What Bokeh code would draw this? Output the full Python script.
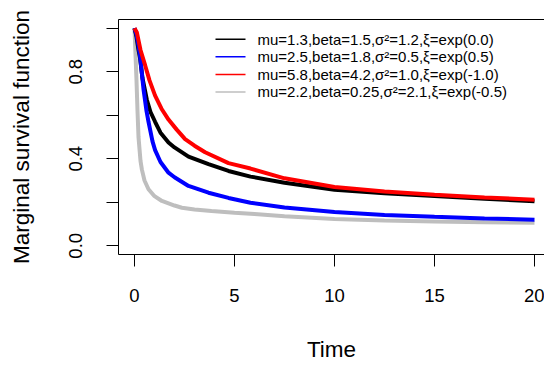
from bokeh.plotting import figure
from bokeh.models import FixedTicker, LinearAxis, Range1d
from bokeh.core.properties import value
from bokeh.embed import file_html
from bokeh.resources import INLINE

# ---- data ----
time_black = [0, 0.1, 0.2, 0.28, 0.4, 0.62, 0.8, 1.03, 1.3, 1.7, 2.0, 2.7, 3.7, 4.7, 5.8, 7.5, 10, 12.5, 15, 17.5, 20]
surv_black = [1.0, 0.96, 0.9, 0.86, 0.77, 0.67, 0.615, 0.57, 0.52, 0.475, 0.452, 0.41, 0.375, 0.344, 0.318, 0.29, 0.258, 0.242, 0.229, 0.216, 0.205]

time_blue = [0, 0.1, 0.2, 0.28, 0.45, 0.6, 0.7, 0.9, 1.03, 1.3, 1.7, 2.0, 2.7, 3.7, 4.7, 5.8, 7.5, 10, 12.5, 15, 17.5, 20]
surv_blue = [1.0, 0.97, 0.92, 0.87, 0.72, 0.62, 0.57, 0.48, 0.44, 0.385, 0.336, 0.315, 0.275, 0.244, 0.22, 0.198, 0.176, 0.155, 0.142, 0.133, 0.126, 0.12]

time_red = [0, 0.12, 0.3, 0.53, 0.75, 1.03, 1.35, 1.7, 2.1, 2.53, 3.0, 3.53, 4.7, 5.8, 7.5, 10, 12.5, 15, 17.5, 20]
surv_red = [1.0, 0.98, 0.9, 0.83, 0.76, 0.69, 0.63, 0.58, 0.535, 0.49, 0.46, 0.43, 0.38, 0.355, 0.31, 0.27, 0.25, 0.235, 0.222, 0.212]

time_gray = [0, 0.05, 0.1, 0.15, 0.2, 0.3, 0.37, 0.5, 0.7, 1.0, 1.37, 2.0, 2.37, 3.0, 3.85, 5.0, 6.0, 7.5, 10, 12.5, 15, 17.5, 20]
surv_gray = [1.0, 0.88, 0.76, 0.62, 0.5, 0.39, 0.35, 0.3, 0.26, 0.228, 0.206, 0.185, 0.175, 0.167, 0.16, 0.152, 0.146, 0.136, 0.123, 0.116, 0.112, 0.108, 0.106]

legend_labels = [
    "mu=1.3,beta=1.5,\u03c3\u00b2=1.2,\u03be=exp(0.0)",
    "mu=2.5,beta=1.8,\u03c3\u00b2=0.5,\u03be=exp(0.5)",
    "mu=5.8,beta=4.2,\u03c3\u00b2=1.0,\u03be=exp(-1.0)",
    "mu=2.2,beta=0.25,\u03c3\u00b2=2.1,\u03be=exp(-0.5)",
]
legend_colors = ["black", "#0000FF", "#FF0000", "#BEBEBE"]

x_ticks = [0, 5, 10, 15, 20]
y_ticks = [0.0, 0.2, 0.4, 0.6, 0.8, 1.0]
y_tick_labels = {0.0: "0.0", 0.2: "", 0.4: "0.4", 0.6: "", 0.8: "0.8", 1.0: ""}

FONT = "Liberation Sans"

p = figure(width=544, height=367, output_backend="svg", toolbar_location=None,
           x_range=Range1d(-0.8, 20.5), y_range=Range1d(-0.04, 1.04),
           min_border_left=118, min_border_right=0, min_border_top=19, min_border_bottom=113)
p.outline_line_color = None
p.xgrid.visible = False
p.ygrid.visible = False
p.background_fill_color = "white"
p.border_fill_color = "white"

# curves
p.line(time_gray, surv_gray, color=legend_colors[3], line_width=4)
p.line(time_black, surv_black, color=legend_colors[0], line_width=4)
p.line(time_blue, surv_blue, color=legend_colors[1], line_width=4)
p.line(time_red, surv_red, color=legend_colors[2], line_width=4)

# legend (no box), placed in data space
leg_x0, leg_x1, leg_tx = 4.05, 5.55, 6.15
leg_y_top, leg_dy = 0.949, 0.0806
leg_ys = [leg_y_top - i * leg_dy for i in range(len(legend_labels))]
p.segment(x0=[leg_x0] * 4, x1=[leg_x1] * 4, y0=leg_ys, y1=leg_ys,
          color=legend_colors, line_width=1.5)
p.text(x=[leg_tx] * 4, y=leg_ys, text=legend_labels, text_font=value(FONT),
       text_font_size="15px", text_baseline="middle", text_align="left", text_color="black")

# axes
for ax in (p.xaxis[0], p.yaxis[0]):
    ax.axis_line_color = "black"
    ax.major_tick_line_color = "black"
    ax.major_tick_out = 12
    ax.major_tick_in = 0
    ax.minor_tick_line_color = None
    ax.major_label_text_font = FONT
    ax.major_label_text_font_size = "18.5px"
    ax.major_label_text_color = "black"
    ax.axis_label_text_font = FONT
    ax.axis_label_text_font_size = "22.5px"
    ax.axis_label_text_font_style = "normal"
    ax.axis_label_text_color = "black"

p.xaxis[0].ticker = FixedTicker(ticks=x_ticks)
p.xaxis[0].axis_label = "Time"
p.xaxis[0].major_label_standoff = 22
p.xaxis[0].axis_label_standoff = 32

p.yaxis[0].ticker = FixedTicker(ticks=y_ticks)
p.yaxis[0].major_label_overrides = y_tick_labels
p.yaxis[0].major_label_orientation = "vertical"
p.yaxis[0].axis_label = "Marginal survival function"
p.yaxis[0].major_label_standoff = 24
p.yaxis[0].axis_label_standoff = 33

# top box edge
top = LinearAxis(ticker=FixedTicker(ticks=[]), major_tick_out=0, major_tick_in=0,
                 minor_tick_line_color=None, major_label_text_font_size="0px",
                 major_label_standoff=0, axis_line_color="black")
p.add_layout(top, "above")

open("out.html", "w").write(file_html(p, INLINE))
